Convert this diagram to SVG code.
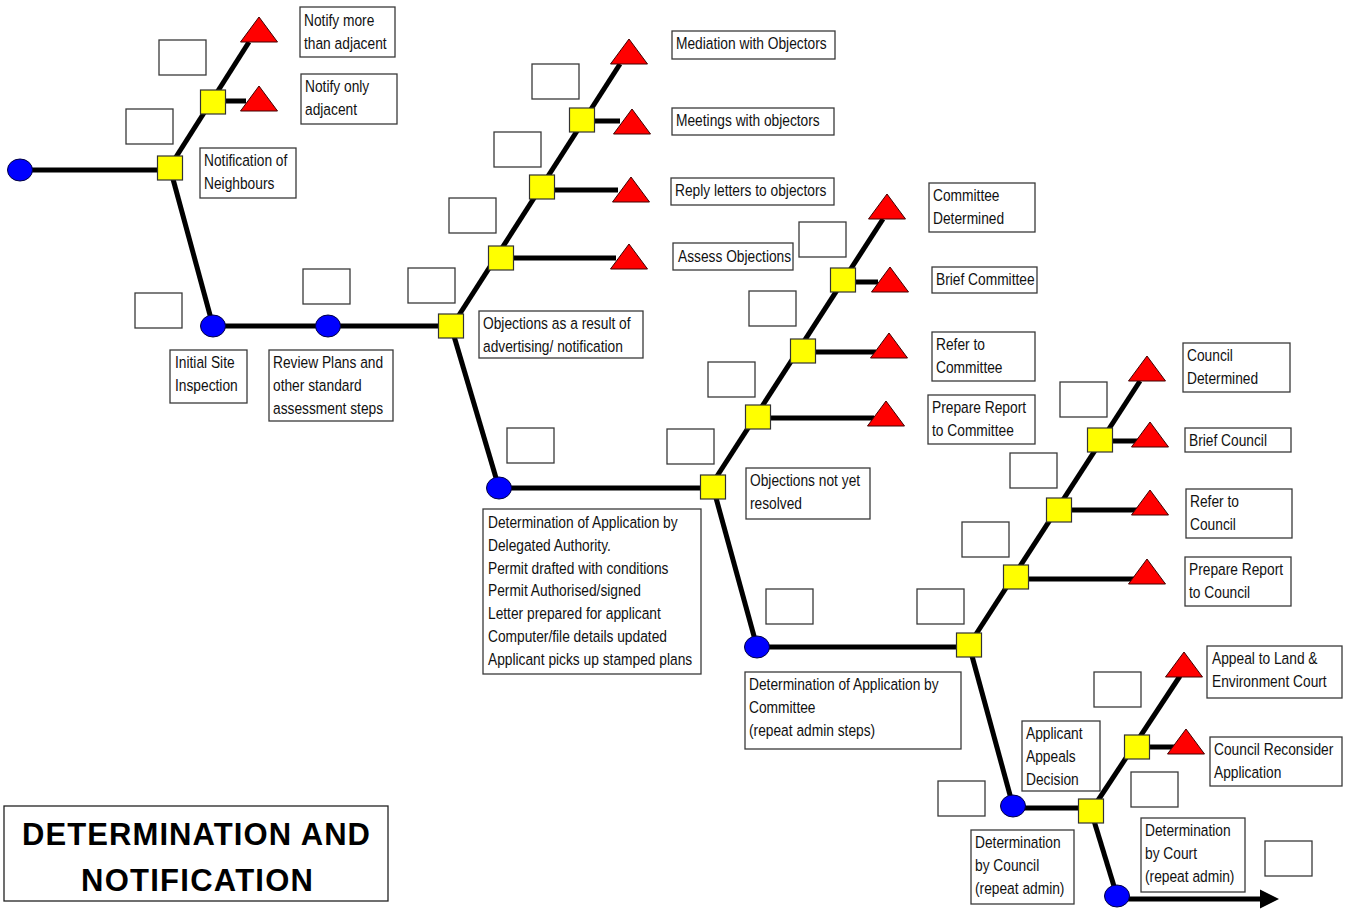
<svg xmlns="http://www.w3.org/2000/svg" xmlns:xlink="http://www.w3.org/1999/xlink" width="1353" height="909" viewBox="0 0 1353 909">
  <style>
    .wire { fill: none; stroke: #000; stroke-width: 5; }
    .box { fill: #fff; stroke: #3a3a3a; stroke-width: 1.3; }
    .t { font-family: "Liberation Sans", Arial, sans-serif; font-size: 17px; fill: #111; }
    .title { font-family: "Liberation Sans", Arial, sans-serif; font-size: 31px; font-weight: bold; fill: #000; text-anchor: middle; }
  </style>
  <defs>
    <ellipse id="stage" cx="0" cy="0" rx="12.5" ry="11" fill="#0000ff" stroke="#000040" stroke-width="1"/>
    <rect id="step" x="-12.5" y="-12" width="25" height="24" fill="#ffff00" stroke="#333" stroke-width="1.2"/>
    <polygon id="outcome" points="0,0 -18.5,25 18.5,25" fill="#ff0000" stroke="#400000" stroke-width="1"/>
    <rect id="blank" x="0" y="0" width="47" height="35" class="box"/>
    <marker id="arrow" markerUnits="userSpaceOnUse" markerWidth="20" markerHeight="20" viewBox="0 0 20 20" refX="2" refY="10" orient="auto">
      <path d="M0,0.5 L19,10 L0,19.5 z" fill="#000"/>
    </marker>
  </defs>

  <rect width="1353" height="909" fill="#fff"/>

  <!-- connectors -->
  <g id="connectors" class="wire">
    <path d="M20,170 H170"/>
    <path d="M169,168 L249,42"/>
    <path d="M212,101 H246"/>
    <path d="M170,168 L213,326"/>
    <path d="M213,326 H451"/>
    <path d="M452,326 L620,64"/>
    <path d="M501,258 H616"/>
    <path d="M542,190 H618"/>
    <path d="M582,121 H620"/>
    <path d="M451,326 L499,488"/>
    <path d="M499,488 H713"/>
    <path d="M710,487 L883,219"/>
    <path d="M758,418 H874"/>
    <path d="M803,352 H876"/>
    <path d="M843,282 H878"/>
    <path d="M713,487 L757,647"/>
    <path d="M757,647 H969"/>
    <path d="M969,645 L1140,381"/>
    <path d="M1016,579 H1135"/>
    <path d="M1059,510 H1138"/>
    <path d="M1100,441 H1138"/>
    <path d="M969,645 L1013,806"/>
    <path d="M1013,808 H1091"/>
    <path d="M1091,811 L1180,676"/>
    <path d="M1137,747 H1175"/>
    <path d="M1091,811 L1117,896"/>
    <path d="M1117,899 H1262" marker-end="url(#arrow)"/>
  </g>

  <!-- stages (blue) -->
  <g id="stage-start"><use xlink:href="#stage" x="20" y="170"/></g>
  <g id="stage-inspection"><use xlink:href="#stage" x="213" y="326"/></g>
  <g id="stage-review"><use xlink:href="#stage" x="328" y="326"/></g>
  <g id="stage-delegated"><use xlink:href="#stage" x="499" y="488"/></g>
  <g id="stage-committee"><use xlink:href="#stage" x="757" y="647"/></g>
  <g id="stage-council"><use xlink:href="#stage" x="1013" y="806"/></g>
  <g id="stage-court"><use xlink:href="#stage" x="1117" y="896"/></g>

  <!-- decision steps (yellow) -->
  <g id="step-neighbours"><use xlink:href="#step" x="170" y="168"/></g>
  <g id="step-notify"><use xlink:href="#step" x="213" y="102"/></g>
  <g id="step-objections"><use xlink:href="#step" x="451" y="326"/></g>
  <g id="step-assess"><use xlink:href="#step" x="501" y="258"/></g>
  <g id="step-reply"><use xlink:href="#step" x="542" y="187"/></g>
  <g id="step-meetings"><use xlink:href="#step" x="582" y="120"/></g>
  <g id="step-unresolved"><use xlink:href="#step" x="713" y="487"/></g>
  <g id="step-prep-committee"><use xlink:href="#step" x="758" y="417"/></g>
  <g id="step-refer-committee"><use xlink:href="#step" x="803" y="351"/></g>
  <g id="step-brief-committee"><use xlink:href="#step" x="843" y="280"/></g>
  <g id="step-to-council"><use xlink:href="#step" x="969" y="645"/></g>
  <g id="step-prep-council"><use xlink:href="#step" x="1016" y="577"/></g>
  <g id="step-refer-council"><use xlink:href="#step" x="1059" y="510"/></g>
  <g id="step-brief-council"><use xlink:href="#step" x="1100" y="440"/></g>
  <g id="step-appeals"><use xlink:href="#step" x="1091" y="811"/></g>
  <g id="step-appeal-route"><use xlink:href="#step" x="1137" y="747"/></g>

  <!-- outcomes (red) -->
  <g id="out-notify-more"><use xlink:href="#outcome" x="259" y="17"/></g>
  <g id="out-notify-adjacent"><use xlink:href="#outcome" x="259" y="86"/></g>
  <g id="out-mediation"><use xlink:href="#outcome" x="629" y="39"/></g>
  <g id="out-meetings"><use xlink:href="#outcome" x="632" y="109"/></g>
  <g id="out-reply"><use xlink:href="#outcome" x="631" y="177"/></g>
  <g id="out-assess"><use xlink:href="#outcome" x="629" y="244"/></g>
  <g id="out-committee-determined"><use xlink:href="#outcome" x="887" y="194"/></g>
  <g id="out-brief-committee"><use xlink:href="#outcome" x="890" y="267"/></g>
  <g id="out-refer-committee"><use xlink:href="#outcome" x="889" y="333"/></g>
  <g id="out-prep-committee"><use xlink:href="#outcome" x="886" y="401"/></g>
  <g id="out-council-determined"><use xlink:href="#outcome" x="1147" y="356"/></g>
  <g id="out-brief-council"><use xlink:href="#outcome" x="1150" y="422"/></g>
  <g id="out-refer-council"><use xlink:href="#outcome" x="1150" y="490"/></g>
  <g id="out-prep-council"><use xlink:href="#outcome" x="1147" y="559"/></g>
  <g id="out-appeal-court"><use xlink:href="#outcome" x="1184" y="652"/></g>
  <g id="out-reconsider"><use xlink:href="#outcome" x="1186" y="729"/></g>

  <!-- blank time boxes -->
  <g id="blanks">
    <use xlink:href="#blank" x="159" y="40"/>
    <use xlink:href="#blank" x="126" y="109"/>
    <use xlink:href="#blank" x="135" y="293"/>
    <use xlink:href="#blank" x="303" y="269"/>
    <use xlink:href="#blank" x="408" y="268"/>
    <use xlink:href="#blank" x="532" y="64"/>
    <use xlink:href="#blank" x="494" y="132"/>
    <use xlink:href="#blank" x="449" y="198"/>
    <use xlink:href="#blank" x="799" y="222"/>
    <use xlink:href="#blank" x="749" y="291"/>
    <use xlink:href="#blank" x="708" y="362"/>
    <use xlink:href="#blank" x="507" y="428"/>
    <use xlink:href="#blank" x="667" y="429"/>
    <use xlink:href="#blank" x="1060" y="382"/>
    <use xlink:href="#blank" x="1010" y="453"/>
    <use xlink:href="#blank" x="962" y="522"/>
    <use xlink:href="#blank" x="766" y="589"/>
    <use xlink:href="#blank" x="917" y="589"/>
    <use xlink:href="#blank" x="1094" y="672"/>
    <use xlink:href="#blank" x="1131" y="772"/>
    <use xlink:href="#blank" x="938" y="781"/>
    <use xlink:href="#blank" x="1265" y="841"/>
  </g>

  <!-- labels -->
  <g id="lbl-notify-more">
    <rect class="box" x="300" y="7" width="95" height="50"/>
    <text class="t" transform="translate(304,26) scale(0.81 1)"><tspan x="0">Notify more</tspan><tspan x="0" dy="23">than adjacent</tspan></text>
  </g>
  <g id="lbl-notify-only">
    <rect class="box" x="301" y="74" width="96" height="50"/>
    <text class="t" transform="translate(305,92) scale(0.81 1)"><tspan x="0">Notify only</tspan><tspan x="0" dy="23">adjacent</tspan></text>
  </g>
  <g id="lbl-neighbours">
    <rect class="box" x="200" y="148" width="96" height="50"/>
    <text class="t" transform="translate(204,166) scale(0.81 1)"><tspan x="0">Notification of</tspan><tspan x="0" dy="23">Neighbours</tspan></text>
  </g>
  <g id="lbl-inspection">
    <rect class="box" x="170" y="350" width="77" height="53"/>
    <text class="t" transform="translate(175,368) scale(0.81 1)"><tspan x="0">Initial Site</tspan><tspan x="0" dy="23">Inspection</tspan></text>
  </g>
  <g id="lbl-review">
    <rect class="box" x="269" y="350" width="124" height="71"/>
    <text class="t" transform="translate(273,368) scale(0.81 1)"><tspan x="0">Review Plans and</tspan><tspan x="0" dy="23">other standard</tspan><tspan x="0" dy="23">assessment steps</tspan></text>
  </g>
  <g id="lbl-objections">
    <rect class="box" x="479" y="311" width="164" height="47"/>
    <text class="t" transform="translate(483,329) scale(0.81 1)"><tspan x="0">Objections as a result of</tspan><tspan x="0" dy="23">advertising/ notification</tspan></text>
  </g>
  <g id="lbl-mediation">
    <rect class="box" x="672" y="31" width="163" height="28"/>
    <text class="t" transform="translate(676,49) scale(0.81 1)">Mediation with Objectors</text>
  </g>
  <g id="lbl-meetings">
    <rect class="box" x="672" y="108" width="162" height="27"/>
    <text class="t" transform="translate(676,126) scale(0.81 1)">Meetings with objectors</text>
  </g>
  <g id="lbl-reply">
    <rect class="box" x="671" y="178" width="163" height="27"/>
    <text class="t" transform="translate(675,196) scale(0.81 1)">Reply letters to objectors</text>
  </g>
  <g id="lbl-assess">
    <rect class="box" x="673" y="243" width="120" height="27"/>
    <text class="t" transform="translate(678,262) scale(0.81 1)">Assess Objections</text>
  </g>
  <g id="lbl-committee-determined">
    <rect class="box" x="929" y="183" width="106" height="49"/>
    <text class="t" transform="translate(933,201) scale(0.81 1)"><tspan x="0">Committee</tspan><tspan x="0" dy="23">Determined</tspan></text>
  </g>
  <g id="lbl-brief-committee">
    <rect class="box" x="932" y="267" width="105" height="26"/>
    <text class="t" transform="translate(936,285) scale(0.81 1)">Brief Committee</text>
  </g>
  <g id="lbl-refer-committee">
    <rect class="box" x="932" y="332" width="103" height="49"/>
    <text class="t" transform="translate(936,350) scale(0.81 1)"><tspan x="0">Refer to</tspan><tspan x="0" dy="23">Committee</tspan></text>
  </g>
  <g id="lbl-prep-committee">
    <rect class="box" x="928" y="395" width="107" height="49"/>
    <text class="t" transform="translate(932,413) scale(0.81 1)"><tspan x="0">Prepare Report</tspan><tspan x="0" dy="23">to Committee</tspan></text>
  </g>
  <g id="lbl-unresolved">
    <rect class="box" x="746" y="468" width="124" height="51"/>
    <text class="t" transform="translate(750,486) scale(0.81 1)"><tspan x="0">Objections not yet</tspan><tspan x="0" dy="23">resolved</tspan></text>
  </g>
  <g id="lbl-delegated">
    <rect class="box" x="483" y="509" width="218" height="165"/>
    <text class="t" transform="translate(488,528) scale(0.81 1)"><tspan x="0">Determination of Application by</tspan><tspan x="0" dy="22.8">Delegated Authority.</tspan><tspan x="0" dy="22.8">Permit drafted with conditions</tspan><tspan x="0" dy="22.8">Permit Authorised/signed</tspan><tspan x="0" dy="22.8">Letter prepared for applicant</tspan><tspan x="0" dy="22.8">Computer/file details updated</tspan><tspan x="0" dy="22.8">Applicant picks up stamped plans</tspan></text>
  </g>
  <g id="lbl-by-committee">
    <rect class="box" x="745" y="672" width="216" height="77"/>
    <text class="t" transform="translate(749,690) scale(0.81 1)"><tspan x="0">Determination of Application by</tspan><tspan x="0" dy="23">Committee</tspan><tspan x="0" dy="23">(repeat admin steps)</tspan></text>
  </g>
  <g id="lbl-council-determined">
    <rect class="box" x="1183" y="343" width="107" height="49"/>
    <text class="t" transform="translate(1187,361) scale(0.81 1)"><tspan x="0">Council</tspan><tspan x="0" dy="23">Determined</tspan></text>
  </g>
  <g id="lbl-brief-council">
    <rect class="box" x="1185" y="428" width="106" height="24"/>
    <text class="t" transform="translate(1189,446) scale(0.81 1)">Brief Council</text>
  </g>
  <g id="lbl-refer-council">
    <rect class="box" x="1186" y="489" width="106" height="49"/>
    <text class="t" transform="translate(1190,507) scale(0.81 1)"><tspan x="0">Refer to</tspan><tspan x="0" dy="23">Council</tspan></text>
  </g>
  <g id="lbl-prep-council">
    <rect class="box" x="1185" y="557" width="106" height="49"/>
    <text class="t" transform="translate(1189,575) scale(0.81 1)"><tspan x="0">Prepare Report</tspan><tspan x="0" dy="23">to Council</tspan></text>
  </g>
  <g id="lbl-appeal-court">
    <rect class="box" x="1207" y="646" width="135" height="52"/>
    <text class="t" transform="translate(1212,664) scale(0.81 1)"><tspan x="0">Appeal to Land &amp;</tspan><tspan x="0" dy="23">Environment Court</tspan></text>
  </g>
  <g id="lbl-reconsider">
    <rect class="box" x="1210" y="737" width="132" height="49"/>
    <text class="t" transform="translate(1214,755) scale(0.81 1)"><tspan x="0">Council Reconsider</tspan><tspan x="0" dy="23">Application</tspan></text>
  </g>
  <g id="lbl-appeals">
    <rect class="box" x="1022" y="721" width="78" height="70"/>
    <text class="t" transform="translate(1026,739) scale(0.81 1)"><tspan x="0">Applicant</tspan><tspan x="0" dy="23">Appeals</tspan><tspan x="0" dy="23">Decision</tspan></text>
  </g>
  <g id="lbl-by-council">
    <rect class="box" x="971" y="830" width="103" height="74"/>
    <text class="t" transform="translate(975,848) scale(0.81 1)"><tspan x="0">Determination</tspan><tspan x="0" dy="23">by Council</tspan><tspan x="0" dy="23">(repeat admin)</tspan></text>
  </g>
  <g id="lbl-by-court">
    <rect class="box" x="1141" y="818" width="104" height="74"/>
    <text class="t" transform="translate(1145,836) scale(0.81 1)"><tspan x="0">Determination</tspan><tspan x="0" dy="23">by Court</tspan><tspan x="0" dy="23">(repeat admin)</tspan></text>
  </g>

  <!-- title -->
  <g id="title">
    <rect x="4" y="806" width="384" height="95" fill="#fff" stroke="#222" stroke-width="1.3"/>
    <text class="title" x="196" y="845" textLength="348" lengthAdjust="spacing">DETERMINATION AND</text>
    <text class="title" x="197" y="891" textLength="232" lengthAdjust="spacing">NOTIFICATION</text>
  </g>
</svg>
